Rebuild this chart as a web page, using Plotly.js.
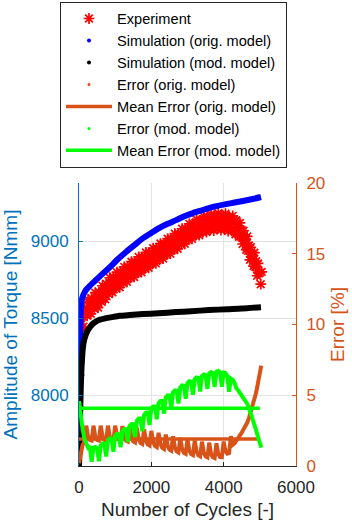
<!DOCTYPE html>
<html>
<head>
<meta charset="utf-8">
<script src="https://cdn.plot.ly/plotly-3.0.1.min.js"></script>
<style>
html,body{margin:0;padding:0;background:#fff;}
#chart{width:352px;height:526px;}
</style>
</head>
<body>
<div id="chart"></div>
<script>
// ---- Data ----
var seriesNames = ["Experiment","Simulation (orig. model)","Simulation (mod. model)","Error (orig. model)","Mean Error (orig. model)","Error (mod. model)","Mean Error (mod. model)"];

var expX = [0,0,0,0,8,15,25,
50,75,100,125,150,175,200,225,250,275,300,325,350,375,400,425,
450,475,500,525,550,575,600,625,650,675,700,725,750,775,800,825,
850,875,900,925,950,975,1000,1025,1050,1075,1100,1125,1150,1175,1200,1225,
1250,1275,1300,1325,1350,1375,1400,1425,1450,1475,1500,1525,1550,1575,1600,1625,
1650,1675,1700,1725,1750,1775,1800,1825,1850,1875,1900,1925,1950,1975,2000,2025,
2050,2075,2100,2125,2150,2175,2200,2225,2250,2275,2300,2325,2350,2375,2400,2425,
2450,2475,2500,2525,2550,2575,2600,2625,2650,2675,2700,2725,2750,2775,2800,2825,
2850,2875,2900,2925,2950,2975,3000,3025,3050,3075,3100,3125,3150,3175,3200,3225,
3250,3275,3300,3325,3350,3375,3400,3425,3450,3475,3500,3525,3550,3575,3600,3625,
3650,3675,3700,3725,3750,3775,3800,3825,3850,3875,3900,3925,3950,3975,4000,4025,
4050,4075,4100,4125,4150,4175,4200,4225,4250,4275,4300,4325,4350,4375,4400,4425,
4450,4475,4500,4525,4550,4575,4600,4625,4650,4675,4700,4725,4750,4775,4800,4825,
4850,4875,4900,4925,4950,4975,5000,5025,5050];
var expY = [7920,8130,8210,8360,8300,8420,8480,
8500,8440,8510,8445,8555,8525,8565,8515,8620,8545,8600,8528,8630,8585,8610,8560,
8665,8588,8642,8568,8670,8627,8655,8605,8710,8638,8695,8622,8723,8679,8705,8656,
8762,8687,8742,8667,8767,8721,8745,8694,8798,8722,8776,8700,8800,8755,8779,8728,
8833,8758,8812,8736,8835,8789,8813,8762,8866,8790,8843,8767,8866,8820,8844,8793,
8897,8821,8875,8798,8897,8850,8873,8822,8926,8850,8903,8827,8925,8879,8902,8850,
8954,8878,8931,8855,8954,8907,8931,8880,8984,8908,8962,8886,8985,8939,8963,8912,
9016,8940,8994,8918,9017,8971,8995,8944,9048,8972,9026,8950,9049,9003,9027,8976,
9080,9004,9058,8982,9081,9035,9059,9008,9112,9036,9090,9014,9113,9066,9089,9037,
9140,9062,9115,9038,9135,9087,9110,9058,9160,9082,9135,9058,9155,9107,9128,9074,
9175,9096,9147,9068,9164,9115,9135,9081,9181,9101,9151,9071,9166,9116,9135,9079,
9178,9097,9146,9065,9158,9106,9124,9067,9164,9081,9128,9044,9135,9078,9090,9027,
9118,9029,9070,8981,9067,9005,9013,8944,9030,8936,8972,8878,8960,8897,8905,8838,
8925,8832,8870,8775,8855,8790,8795,8720,8800];

var simOrigX = [0,10,20,30,45,60,80,110,150,200,300,470,650,830,1050,1300,1550,1770,2000,2212,2450,2682,2900,3152,3400,3594,3800,4065,4300,4535,4800,5032];
var simOrigY = [7540,7850,8150,8380,8520,8580,8620,8645,8665,8685,8710,8747,8787,8825,8877,8929,8977,9019,9053,9084,9112,9136,9160,9182,9200,9214,9227,9240,9250,9260,9273,9286];

var simModX = [0,10,20,30,40,55,70,90,110,140,166,200,230,270,304,360,420,500,580,700,830,1000,1134,1400,1770,2200,2682,3100,3594,4100,4500,5032];
var simModY = [7540,7640,7760,7870,7967,8090,8180,8260,8312,8355,8377,8400,8415,8430,8442,8458,8470,8482,8490,8497,8503,8510,8515,8520,8526,8532,8539,8545,8552,8558,8562,8571];

var errX = [0,50,100,150,200,250,300,350,400,450,500,550,600,650,700,750,800,850,900,950,
1000,1050,1100,1150,1200,1250,1300,1350,1400,1450,1500,1550,1600,1650,1700,1750,1800,1850,1900,1950,
2000,2050,2100,2150,2200,2250,2300,2350,2400,2450,2500,2550,2600,2650,2700,2750,2800,2850,2900,2950,
3000,3050,3100,3150,3200,3250,3300,3350,3400,3450,3500,3550,3600,3650,3700,3750,3800,3850,3900,3950,
4000,4050,4100,4150,4200,4250,4300,4350,4400,4450,4500,4550,4600,4650,4700,4750,4800,4850,4900,4950,
5000,5040];
var errOrig = [0.2,0.8,1.5,1.65,2.85,2.1,1.85,1.8,2.85,2.1,1.85,1.8,2.85,2.1,1.85,1.8,2.85,2.1,1.85,1.8,
2.85,2.1,1.85,1.78,2.82,2.05,1.79,1.73,2.77,2.01,1.75,1.67,2.7,1.92,1.64,1.56,2.59,1.81,1.53,1.45,
2.48,1.7,1.42,1.34,2.35,1.57,1.29,1.2,2.22,1.44,1.16,1.08,2.1,1.32,1.04,0.96,1.99,1.21,0.93,0.86,
1.89,1.11,0.84,0.77,1.8,1.03,0.76,0.69,1.72,0.95,0.68,0.61,1.65,0.88,0.62,0.56,1.6,0.86,0.63,0.62,
1.73,1.05,0.87,0.92,2.1,1.5,1.6,1.8,1.95,2.1,2.35,2.6,2.8,3.05,3.4,3.8,4.2,4.7,5.2,5.9,
6.6,7.1];
var errMod = [4.6,3.5,2.6,1.95,1.55,1.3,1.4,0.3,1.3,1.35,1.27,0.33,1.46,1.6,1.58,0.67,1.81,1.95,1.93,1.01,
2.14,2.27,2.25,1.33,2.47,2.61,2.6,1.69,2.83,2.97,2.96,2.05,3.2,3.35,3.35,2.45,3.61,3.77,3.78,2.9,
4.05,4.2,4.2,3.3,4.45,4.6,4.6,3.7,4.85,4.99,4.98,4.07,5.21,5.35,5.33,4.42,5.56,5.69,5.67,4.75,
5.87,5.99,5.96,5.03,6.14,6.25,6.21,5.26,6.36,6.46,6.41,5.45,6.54,6.63,6.56,5.59,6.66,6.72,6.62,5.6,
6.6,6.57,6.37,5.25,6.18,6.1,5.87,5.5,5.35,5.18,5.0,4.8,4.6,4.4,4.1,3.75,3.35,2.95,2.5,2.05,
1.65,1.3];

var meanX = [0,5000];
var meanOrig = [1.91,1.91];
var meanMod = [4.08,4.08];

var xTicks = [0,2000,4000,6000];
var yTicks = [8000,8500,9000];
var y2Ticks = [0,5,10,15,20];

// ---- Styles ----
var FONT = '"Liberation Sans", Arial, Helvetica, sans-serif';
var C_BLUE_AX = '#0072BD', C_ORANGE = '#D95319', C_DARK = '#262626';

var traces = [
  {x: expX, y: expY, name: seriesNames[0], type:'scatter', mode:'markers', legendrank:1,
   marker:{symbol:'asterisk-open', size:9, color:'#FF0000', line:{color:'#FF0000', width:1.7}}},
  {x: simOrigX, y: simOrigY, type:'scatter', mode:'lines', showlegend:false,
   line:{color:'#0000FF', width:6, shape:'spline', smoothing:0.6}},
  {x: simModX, y: simModY, type:'scatter', mode:'lines', showlegend:false,
   line:{color:'#000000', width:6, shape:'spline', smoothing:0.6}},
  {x: errX, y: errOrig, yaxis:'y2', type:'scatter', mode:'lines', showlegend:false,
   line:{color:C_ORANGE, width:4}},
  {x: meanX, y: meanOrig, yaxis:'y2', name: seriesNames[4], type:'scatter', mode:'lines', legendrank:5,
   line:{color:C_ORANGE, width:3.5}},
  {x: errX, y: errMod, yaxis:'y2', type:'scatter', mode:'lines', showlegend:false,
   line:{color:'#00FF00', width:4}},
  {x: meanX, y: meanMod, yaxis:'y2', name: seriesNames[6], type:'scatter', mode:'lines', legendrank:7,
   line:{color:'#00FF00', width:3.5}},
  // legend-only entries (dot markers as in the reference legend)
  {x:[null], y:[null], name: seriesNames[1], type:'scatter', mode:'markers', legendrank:2,
   marker:{color:'#0000FF', size:4}},
  {x:[null], y:[null], name: seriesNames[2], type:'scatter', mode:'markers', legendrank:3,
   marker:{color:'#000000', size:4}},
  {x:[null], y:[null], name: seriesNames[3], type:'scatter', mode:'markers', legendrank:4,
   marker:{color:C_ORANGE, size:3}},
  {x:[null], y:[null], name: seriesNames[5], type:'scatter', mode:'markers', legendrank:6,
   marker:{color:'#00FF00', size:3}}
];

var layout = {
  width:352, height:526,
  margin:{l:79, r:56, t:183, b:60, pad:0},
  paper_bgcolor:'#fff', plot_bgcolor:'#fff',
  font:{family:FONT, color:C_DARK},
  showlegend:true,
  legend:{xref:'paper', yref:'container', x:-19/217, y:1-1.5/526, xanchor:'left', yanchor:'top', bgcolor:'#fff',
    bordercolor:C_DARK, borderwidth:1, font:{size:14.6, color:'#000'}, itemwidth:46,
    traceorder:'normal'},
  xaxis:{range:[0,6000], tickvals:xTicks, ticktext:xTicks.map(String), ticks:'inside', ticklen:4,
    tickcolor:C_DARK, showline:true, linecolor:C_DARK, linewidth:1, showgrid:true, gridcolor:'#e3e3e3',
    zeroline:false, tickfont:{size:17, color:C_DARK}, ticklabelstandoff:6,
    title:{text:'Number of Cycles [-]', font:{size:19, color:C_DARK}, standoff:6}},
  yaxis:{range:[7540,9377], tickvals:yTicks, ticktext:yTicks.map(String), ticks:'inside', ticklen:4,
    tickcolor:C_BLUE_AX, showline:true, linecolor:C_BLUE_AX, linewidth:1, showgrid:true, gridcolor:'#e3e3e3',
    zeroline:false, tickfont:{size:17, color:C_BLUE_AX}, ticklabelstandoff:6,
    title:{text:'Amplitude of Torque [Nmm]', font:{size:19, color:C_BLUE_AX}, standoff:8}},
  yaxis2:{range:[0,20], tickvals:y2Ticks, ticktext:y2Ticks.map(String), overlaying:'y', side:'right',
    ticks:'inside', ticklen:4, tickcolor:C_ORANGE, showline:true, linecolor:C_ORANGE, linewidth:1,
    showgrid:false, zeroline:false, tickfont:{size:17, color:C_ORANGE}, ticklabelstandoff:6,
    title:{text:'Error [%]', font:{size:19, color:C_ORANGE}, standoff:6}}
};

Plotly.newPlot('chart', traces, layout, {staticPlot:true, displayModeBar:false});
</script>
</body>
</html>
